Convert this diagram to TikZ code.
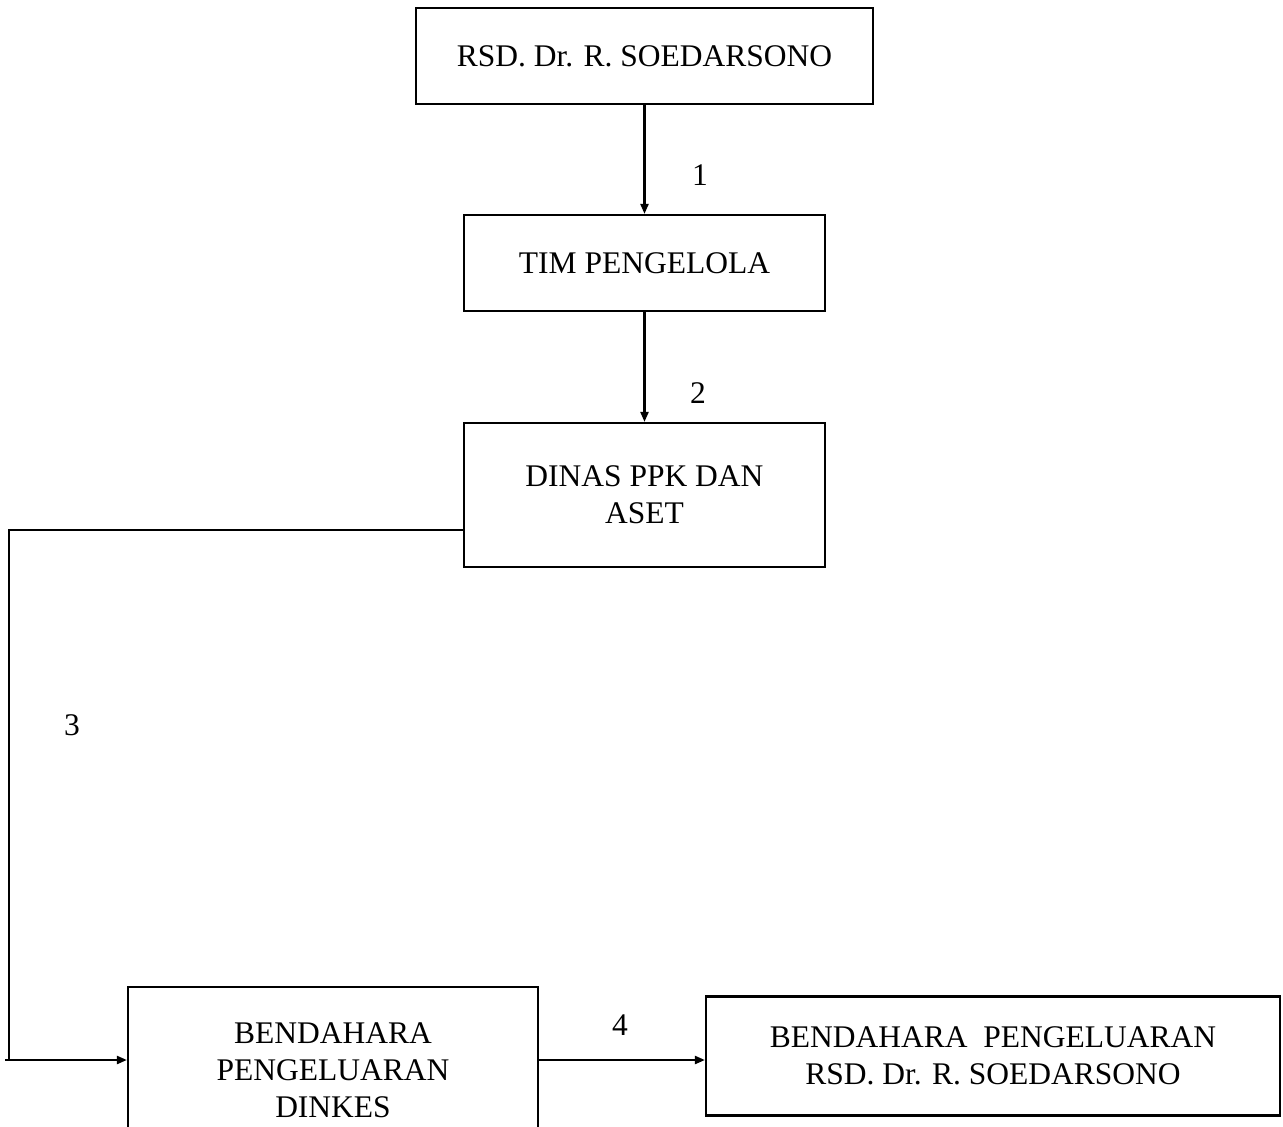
\documentclass[tikz,border=0pt]{standalone}
\usepackage{fontspec}
\setmainfont{Liberation Serif}
\usetikzlibrary{arrows.meta}
\begin{document}
\begin{tikzpicture}[x=1pt,y=-1pt,
  box/.style={draw,line width=2.2pt,inner sep=0pt,align=center,font=\fontsize{31.5}{37}\selectfont},
  lbl/.style={font=\fontsize{31.5}{37}\selectfont,inner sep=0pt},
  arr/.style={line width=2.2pt,-{Triangle[length=10pt,width=8pt]}},
  ln/.style={line width=2.2pt}]
\useasboundingbox (0,0) rectangle (1283,1127);
\node[box,minimum width=457pt,minimum height=96pt] (b1) at (644.5,56) {RSD. Dr. R. SOEDARSONO};
\node[box,minimum width=361pt,minimum height=96pt] (b2) at (644.5,263) {TIM PENGELOLA};
\node[box,minimum width=361pt,minimum height=144pt] (b3) at (644.5,495) {DINAS PPK DAN\\ASET};
\node[box,minimum width=410pt,minimum height=166pt] (b4) at (333,1070) {BENDAHARA\\PENGELUARAN\\DINKES};
\node[box,minimum width=574pt,minimum height=119pt] (b5) at (993,1056) {BENDAHARA\ \ PENGELUARAN\\RSD. Dr. R. SOEDARSONO};
\draw[arr] (b1.south) -- (b2.north);
\draw[arr] (b2.south) -- (b3.north);
\coordinate (c3a) at (464,530);
\coordinate (c3b) at (9,530);
\coordinate (c3c) at (9,1060);
\coordinate (c3d) at (5,1060);
\draw[ln] (c3a) -- (c3b) -- (c3c);
\draw[arr] (c3d) -- (b4.west |- c3d);
\coordinate (c4) at (538,1060);
\draw[arr] (c4) -- (b5.west |- c4);
\node[lbl] (l1) at (700,175) {1};
\node[lbl] (l2) at (698,393) {2};
\node[lbl] (l3) at (72,725) {3};
\node[lbl] (l4) at (620,1025) {4};
\end{tikzpicture}
\end{document}
